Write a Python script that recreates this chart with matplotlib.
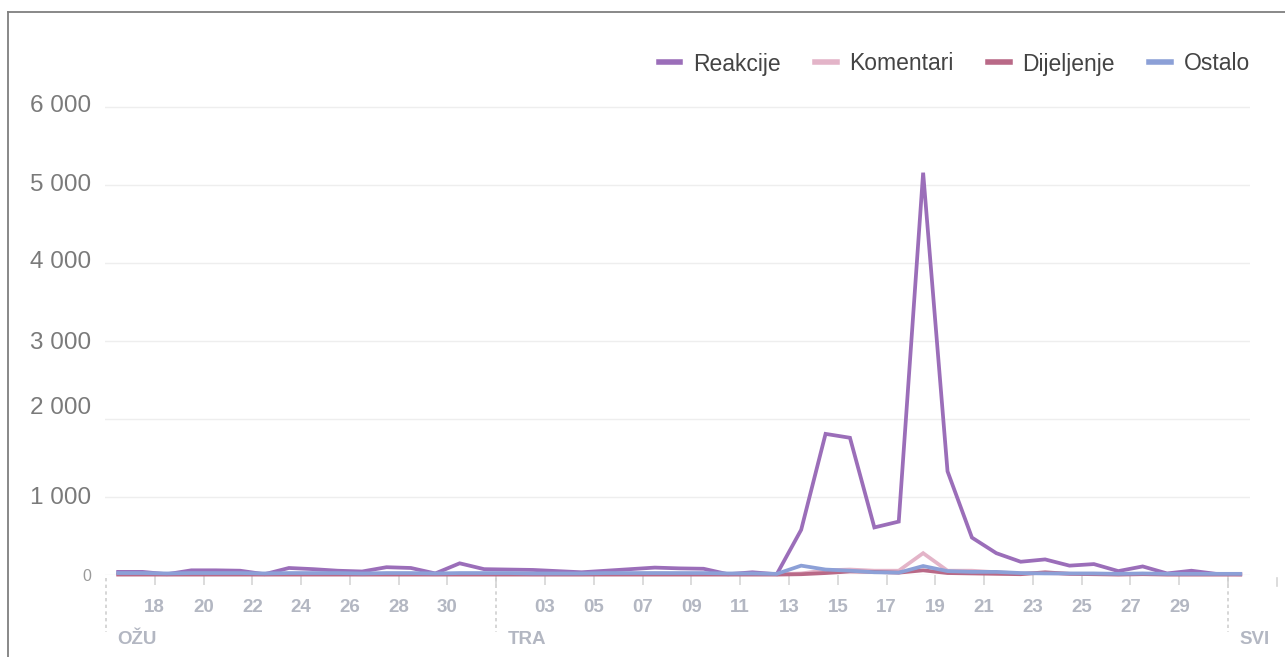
import matplotlib
matplotlib.use("Agg")
import matplotlib.pyplot as plt
import matplotlib.dates as mdates
import matplotlib.transforms as mtransforms
from matplotlib.lines import Line2D
import pandas as pd

plt.rcParams['font.family'] = ['Liberation Sans', 'DejaVu Sans']

# ---- data (daily values, 16 Mar – 1 May) ----
dates = pd.date_range('2020-03-16', '2020-05-01', freq='D')
reakcije = [40, 40, 10, 60, 60, 55, 10, 90, 75, 55, 45, 100, 90, 20, 150, 75,
            70, 65, 50, 35, 55, 75, 95, 85, 80, 10, 35, 10, 580, 1810, 1760, 610,
            685, 5160, 1330, 480, 280, 170, 200, 120, 140, 50, 110, 20, 55, 15, 10]
komentari = [15, 15, 10, 15, 15, 15, 10, 15, 15, 15, 10, 15, 15, 10, 15, 15,
             15, 10, 10, 10, 15, 15, 20, 15, 15, 10, 15, 10, 20, 60, 70, 55,
             55, 280, 55, 55, 35, 20, 25, 15, 15, 10, 15, 10, 10, 10, 10]
dijeljenje = [5, 5, 5, 5, 5, 5, 5, 5, 5, 5, 5, 5, 5, 5, 5, 5,
              5, 5, 5, 5, 5, 5, 5, 5, 5, 5, 5, 5, 10, 25, 45, 40,
              30, 60, 25, 20, 15, 10, 35, 15, 10, 5, 10, 5, 5, 5, 5]
ostalo = [25, 25, 20, 25, 25, 25, 20, 25, 25, 25, 20, 25, 25, 20, 25, 25,
          25, 20, 20, 20, 25, 25, 25, 25, 25, 20, 20, 15, 120, 70, 55, 35,
          30, 115, 50, 40, 40, 25, 20, 20, 20, 15, 20, 15, 15, 15, 15]

series_names = ['Reakcije', 'Komentari', 'Dijeljenje', 'Ostalo']
series_values = [reakcije, komentari, dijeljenje, ostalo]
series_colors = ['#9b6eb9', '#e3b4c8', '#b96987', '#8ca0d7']

y_ticks = [0, 1000, 2000, 3000, 4000, 5000, 6000]
y_labels = ['0', '1 000', '2 000', '3 000', '4 000', '5 000', '6 000']
y_label_lift = [0, 2, 14, 1, 4, 3, 4]  # px offset of each label above its gridline

tick_dates = pd.to_datetime(['2020-03-18', '2020-03-20', '2020-03-22', '2020-03-24',
                             '2020-03-26', '2020-03-28', '2020-03-30', '2020-04-01',
                             '2020-04-03', '2020-04-05', '2020-04-07', '2020-04-09',
                             '2020-04-11', '2020-04-13', '2020-04-15', '2020-04-17',
                             '2020-04-19', '2020-04-21', '2020-04-23', '2020-04-25',
                             '2020-04-27', '2020-04-29', '2020-05-01'])
tick_labels = ['18', '20', '22', '24', '26', '28', '30', '',
               '03', '05', '07', '09', '11', '13', '15', '17',
               '19', '21', '23', '25', '27', '29', '']
month_dates = pd.to_datetime(['2020-03-16', '2020-04-01', '2020-05-01'])
month_labels = ['OŽU', 'TRA', 'SVI']

# ---- figure ----
W, H = 1285, 657
fig = plt.figure(figsize=(W / 100, H / 100), dpi=100)
fig.patch.set_facecolor('white')

# outer frame (left and top border of the widget)
fig.add_artist(Line2D([8 / W, 8 / W], [0, 1 - 12 / H], color='#7f7f7f', lw=1.3))
fig.add_artist(Line2D([8 / W, 1], [1 - 12 / H, 1 - 12 / H], color='#7f7f7f', lw=1.3))

ax_left, ax_right = 105, 1250
ax_bottom, ax_top = 575, 76
ax = fig.add_axes([ax_left / W, 1 - ax_bottom / H, (ax_right - ax_left) / W,
                   (ax_bottom - ax_top) / H])

xnum = mdates.date2num(dates) + 0.5
x0 = mdates.date2num(pd.Timestamp('2020-03-16'))
ax.set_xlim(x0 - 0.04, x0 + 46.9)
ax.set_ylim(0, 6400)

for name, vals, col in zip(series_names, series_values, series_colors):
    ax.plot(xnum, vals, color=col, lw=2.7, label=name, clip_on=False,
            solid_joinstyle='miter', zorder=3)

# grid
for spine in ax.spines.values():
    spine.set_visible(False)
ax.set_yticks(y_ticks)
ax.set_yticklabels(y_labels)
ax.yaxis.grid(True, color='#eeeeee', lw=1)
ax.tick_params(axis='y', length=0, pad=10, labelsize=17.5, labelcolor='#7a7a7a')
for lab, lift in zip(ax.get_yticklabels(), y_label_lift):
    lab.set_transform(lab.get_transform() +
                      mtransforms.ScaledTranslation(0, lift / 100, fig.dpi_scale_trans))
ylabs = ax.get_yticklabels()
ylabs[0].set_fontsize(11.5)
ylabs[0].set_color('#9a9a9a')

ax.set_xticks(mdates.date2num(tick_dates))
ax.set_xticklabels(tick_labels)
ax.tick_params(axis='x', length=7, width=1.2, color='#d6d6d6', pad=10,
               labelsize=13.5, labelcolor='#b3b7c2')
for lab in ax.get_xticklabels():
    lab.set_fontweight('bold')

# extra tick beyond the right end
trans_x = mtransforms.blended_transform_factory(ax.transData, ax.transAxes)
ax.plot([x0 + 48, x0 + 48], [-3 / 499, -11 / 499], transform=trans_x,
        color='#d6d6d6', lw=1.2, clip_on=False)

# month separators and labels
for md, ml in zip(month_dates, month_labels):
    xm = mdates.date2num(md)
    ax.plot([xm, xm], [-3 / 499, -57 / 499], transform=trans_x, color='#d0d0d0',
            lw=1.2, ls=(0, (2, 2)), clip_on=False)
    ax.text(xm, -64 / 499, ml, transform=trans_x + mtransforms.ScaledTranslation(
        0.11, 0, fig.dpi_scale_trans), ha='left', va='center', fontsize=13.5,
        color='#b3b7c2', fontweight='bold')

# legend
leg = ax.legend(loc='center right', bbox_to_anchor=(1250 / W, 1 - 64 / H),
                bbox_transform=fig.transFigure, ncol=4, frameon=False,
                fontsize=16.5, handlelength=0.95, handletextpad=0.55,
                columnspacing=1.5, borderaxespad=0, borderpad=0)
for h in leg.get_lines():
    h.set_linewidth(4)
for t in leg.get_texts():
    t.set_color('#444444')

fig.savefig('out.png', dpi=100)
